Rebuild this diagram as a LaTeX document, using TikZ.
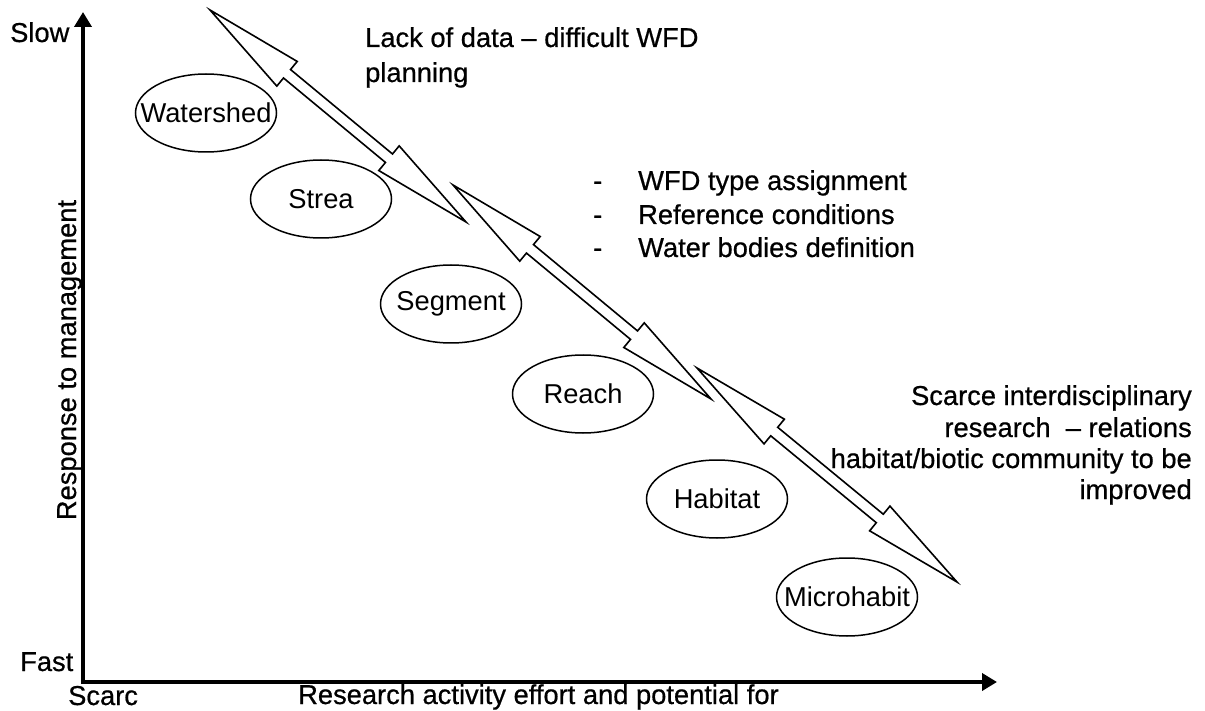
\documentclass[tikz,border=0pt]{standalone}
\usepackage{fontspec}
\setmainfont{Liberation Sans}
\newfontfamily\heavyfont[FakeBold=0.6,Ligatures=TeX]{Liberation Sans}
\usetikzlibrary{calc,shapes.geometric,arrows.meta}
\newcommand\hdl{100pt}
\newcommand\hdw{16pt}
\newcommand\shw{5.5pt}
\newcommand\dblarrowdraw[2]{%
  \draw[dblarrow] (#1)
    -- ($(#1)!\hdl!(#2)!\hdw!90:(#2)$)
    -- ($(#1)!\hdl!(#2)!\shw!90:(#2)$)
    -- ($(#2)!\hdl!(#1)!\shw!-90:(#1)$)
    -- ($(#2)!\hdl!(#1)!\hdw!-90:(#1)$)
    -- (#2)
    -- ($(#2)!\hdl!(#1)!\hdw!90:(#1)$)
    -- ($(#2)!\hdl!(#1)!\shw!90:(#1)$)
    -- ($(#1)!\hdl!(#2)!\shw!-90:(#2)$)
    -- ($(#1)!\hdl!(#2)!\hdw!-90:(#2)$)
    -- cycle;}
\begin{document}
\begin{tikzpicture}[x=1pt,y=-1pt,
  txt/.style={font=\heavyfont\fontsize{27.3}{33}\selectfont, inner sep=0pt},
  lbl/.style={font=\fontsize{27.3}{33}\selectfont, inner sep=0pt},
  scaleell/.style={draw, ellipse, line width=1.5pt, minimum width=141pt, minimum height=78pt, inner sep=0pt},
  dblarrow/.style={draw, line width=1.6pt, fill=white, line join=miter},
  axis/.style={line width=4pt, -{Triangle[length=15pt,width=17pt]}}
]
\useasboundingbox (0,0) rectangle (1205,711);
% axes
\coordinate (O) at (83,684);
\coordinate (ytop) at (83,12);
\coordinate (O2) at (81,682);
\coordinate (xend) at (997,682);
\draw[axis] (O) -- (ytop);
\draw[axis] (O2) -- (xend);
\node[txt, anchor=base west] (slow) at (10,42) {Slow};
\node[txt, anchor=base west] (fast) at (20,671) {Fast};
\node[txt, anchor=base west] (scarc) at (68,705) {Scarc};
\node[txt, anchor=base west] (xlab) at (298,704) {Research activity effort and potential for};
\node[txt, anchor=base, rotate=90] (ylab) at (76,360) {Response to management};
% scales
\node[scaleell, label={[lbl]center:Watershed}] (ws) at (206,113) {};
\node[scaleell, label={[lbl]center:Strea}] (st) at (321,199) {};
\node[scaleell, label={[lbl]center:Segment}] (sg) at (451,304) {};
\node[scaleell, label={[lbl]center:Reach}] (rc) at (583,394) {};
\node[scaleell, label={[lbl]center:Habitat}] (hb) at (717,499) {};
\node[scaleell, label={[lbl]center:Microhabit}] (mh) at (847,597) {};
% double arrows
\coordinate (a1s) at (210,10);
\coordinate (a1e) at (466,222);
\coordinate (a2s) at (453,185);
\coordinate (a2e) at (711,399);
\coordinate (a3s) at (697,368);
\coordinate (a3e) at (957,582);
\dblarrowdraw{a1s}{a1e}
\dblarrowdraw{a2s}{a2e}
\dblarrowdraw{a3s}{a3e}
% texts
\node[txt, anchor=base west] (t1a) at (365,47) {Lack of data – difficult WFD};
\node[txt, anchor=base west] (t1b) at (365,82) {planning};
\node[txt, anchor=base west] (d1) at (593,190) {-};
\node[txt, anchor=base west] (d2) at (593,224) {-};
\node[txt, anchor=base west] (d3) at (593,257) {-};
\node[txt, anchor=base west] (b1) at (638,190) {WFD type assignment};
\node[txt, anchor=base west] (b2) at (638,224) {Reference conditions};
\node[txt, anchor=base west] (b3) at (638,257) {Water bodies definition};
\node[txt, anchor=base east] (r1) at (1192,405) {Scarce interdisciplinary};
\node[txt, anchor=base east] (r2) at (1192,437) {research\ \ – relations};
\node[txt, anchor=base east] (r3) at (1192,468) {habitat/biotic community to be};
\node[txt, anchor=base east] (r4) at (1192,499) {improved};
\end{tikzpicture}
\end{document}
